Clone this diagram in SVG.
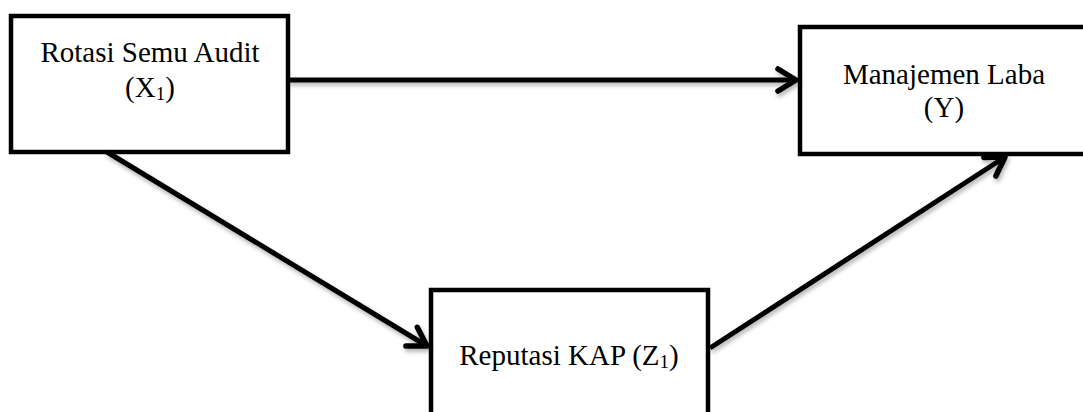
<svg xmlns="http://www.w3.org/2000/svg" width="1083" height="412" viewBox="0 0 1083 412">
<style>
.box{fill:#fff;stroke:#000;stroke-width:4.5}
.lbl{font-family:"Liberation Serif","Times New Roman",serif;font-size:29px;fill:#000;text-anchor:middle}
.sub{font-size:19px}
.conn{stroke:#000;stroke-width:5;fill:none}
</style>
<defs>
<marker id="ah" markerUnits="userSpaceOnUse" markerWidth="50" markerHeight="50" viewBox="-25 -25 50 50" refX="0" refY="0" orient="auto">
<path d="M-18,-11 L0,0 L-18,11" fill="none" stroke="#000" stroke-width="5.5" stroke-linecap="round" stroke-linejoin="round"/>
</marker>
<filter id="sh" x="-10%" y="-10%" width="120%" height="130%">
<feDropShadow dx="1.5" dy="3" stdDeviation="2" flood-color="#000" flood-opacity="0.3"/>
</filter>
</defs>
<g id="node-x1">
<rect class="box" x="11" y="16" width="277" height="136"/>
<text class="lbl" x="150" y="62">Rotasi Semu Audit</text>
<text class="lbl" x="150" y="97">(X<tspan class="sub" dy="3">1</tspan><tspan dy="-3">)</tspan></text>
</g>
<g id="node-y">
<rect class="box" x="800" y="27" width="300" height="127"/>
<text class="lbl" x="944" y="84">Manajemen Laba</text>
<text class="lbl" x="944" y="117">(Y)</text>
</g>
<g id="node-z1">
<rect class="box" x="431" y="290" width="277" height="140"/>
<text class="lbl" x="569" y="365">Reputasi KAP (Z<tspan class="sub" dy="3">1</tspan><tspan dy="-3">)</tspan></text>
</g>
<g id="connectors" filter="url(#sh)">
<line class="conn" x1="287" y1="80" x2="796" y2="80" marker-end="url(#ah)"/>
<line class="conn" x1="107" y1="152" x2="427" y2="346" marker-end="url(#ah)"/>
<line class="conn" x1="710" y1="348" x2="1005" y2="157" marker-end="url(#ah)"/>
</g>
</svg>
